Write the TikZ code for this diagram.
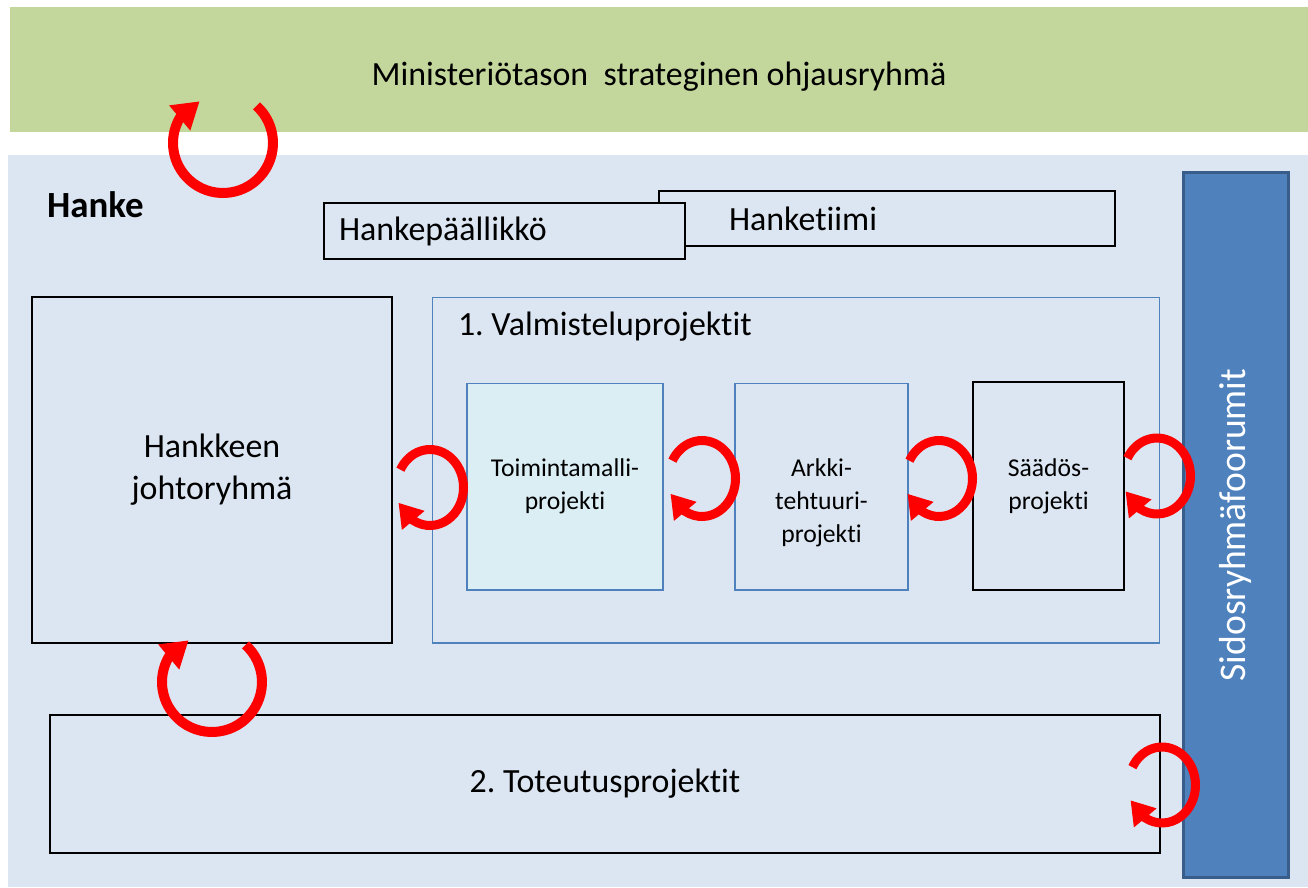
\documentclass[tikz,border=0pt]{standalone}
\usepackage{fontspec}
\setmainfont{Carlito}[Ligatures=NoCommon]
\usetikzlibrary{arrows.meta,positioning}
\frenchspacing

\definecolor{bandgreen}{HTML}{C3D69B}
\definecolor{hankebg}{HTML}{DCE6F2}
\definecolor{forumblue}{HTML}{4F81BD}
\definecolor{forumedge}{HTML}{385D8A}
\definecolor{projcyan}{HTML}{DBEEF4}

\begin{document}
\begin{tikzpicture}[
  x=0.02cm, y=-0.02cm,
  plain/.style={rectangle, inner sep=0pt, outer sep=0pt},
  plainbox/.style={plain, draw=black, line width=1pt, fill=hankebg},
  subbox/.style={plain, draw=forumblue, line width=0.6pt, fill=hankebg},
  bigtext/.style={font=\fontsize{19.3}{23.8}\selectfont},
  smalltext/.style={font=\fontsize{14.6}{18.7}\selectfont, align=center},
  cyclearrow/.style={red, line width=0.18cm, -{Triangle[length=0.46cm, width=0.56cm]}},
  bigcycle/.style={red, line width=0.2cm, -{Triangle[length=0.52cm, width=0.62cm]}}
]
\useasboundingbox (0,0) rectangle (1308,887);
% ministry level
\node[plain, fill=bandgreen, minimum width=25.96cm, minimum height=2.5cm] (ministry) at (659,69.5) {};
\node[plain, bigtext] (ministrytext) at (659,77) {Ministeriötason\ \ strateginen ohjausryhmä};
% project area
\node[plain, fill=hankebg, minimum width=26cm, minimum height=14.64cm] (hanke) at (658,521) {};
\node[plain, anchor=west, font=\fontsize{21}{25}\selectfont\bfseries] (hanketitle) at (47,205) {Hanke};
\node[plainbox, minimum height=1.1cm, text width=6.32cm, inner xsep=1.4cm, align=left, bigtext] (team) at (887,218.5) {Hanketiimi};
\node[plainbox, minimum height=1.12cm, text width=6.62cm, inner xsep=0.3cm, align=left, bigtext] (manager) at (504.5,231) {Hankepäällikkö};
\node[plainbox, minimum width=7.2cm, minimum height=6.92cm, align=center, bigtext] (steering) at (212,470) {Hankkeen\\johtoryhmä};
% preparation projects
\node[subbox, minimum width=14.56cm, minimum height=6.92cm] (prep) at (796,470) {};
\node[plain, anchor=west, bigtext] (preptitle) at (458,327) {1. Valmisteluprojektit};
\node[subbox, fill=projcyan, minimum width=3.92cm, minimum height=4.14cm, smalltext] (opmodel) at (565,486.5) {Toimintamalli-\\projekti};
\node[subbox, minimum width=3.46cm, minimum height=4.14cm] (archi) at (821.5,486.5) {};
\node[plain, smalltext] (architext) at (821.5,503) {Arkki-\\tehtuuri-\\projekti};
\node[plainbox, minimum width=3.02cm, minimum height=4.16cm, smalltext] (statute) at (1048.5,486) {Säädös-\\projekti};
% implementation
\node[plainbox, minimum width=22.2cm, minimum height=2.76cm, bigtext] (impl) at (605,784) {2. Toteutusprojektit};
% stakeholder forum
\node[plain, rotate=90, fill=forumblue, draw=forumedge, line width=1.7pt, minimum width=14.12cm, minimum height=2.1cm, text=white, font=\fontsize{21.4}{25}\selectfont] (forum) at (1235.5,525) {Sidosryhmäfoorumit};
% feedback loops
\draw[bigcycle] (223,143) ++(48:1cm) arc[start angle=48, end angle=-210, radius=1cm] -- ++(40:0.52cm);
\draw[bigcycle] (212,682) ++(48:1cm) arc[start angle=48, end angle=-210, radius=1cm] -- ++(40:0.52cm);
\draw[cyclearrow] (430,487.5) ++(152:0.67cm and 0.76cm) arc[start angle=152, end angle=-120, x radius=0.67cm, y radius=0.76cm] -- ++(130:0.46cm);
\draw[cyclearrow] (702,478.5) ++(152:0.67cm and 0.76cm) arc[start angle=152, end angle=-120, x radius=0.67cm, y radius=0.76cm] -- ++(130:0.46cm);
\draw[cyclearrow] (939,478.5) ++(152:0.67cm and 0.76cm) arc[start angle=152, end angle=-120, x radius=0.67cm, y radius=0.76cm] -- ++(130:0.46cm);
\draw[cyclearrow] (1157,476) ++(152:0.67cm and 0.76cm) arc[start angle=152, end angle=-120, x radius=0.67cm, y radius=0.76cm] -- ++(130:0.46cm);
\draw[cyclearrow] (1162,785) ++(152:0.67cm and 0.76cm) arc[start angle=152, end angle=-120, x radius=0.67cm, y radius=0.76cm] -- ++(130:0.46cm);
\end{tikzpicture}
\end{document}
